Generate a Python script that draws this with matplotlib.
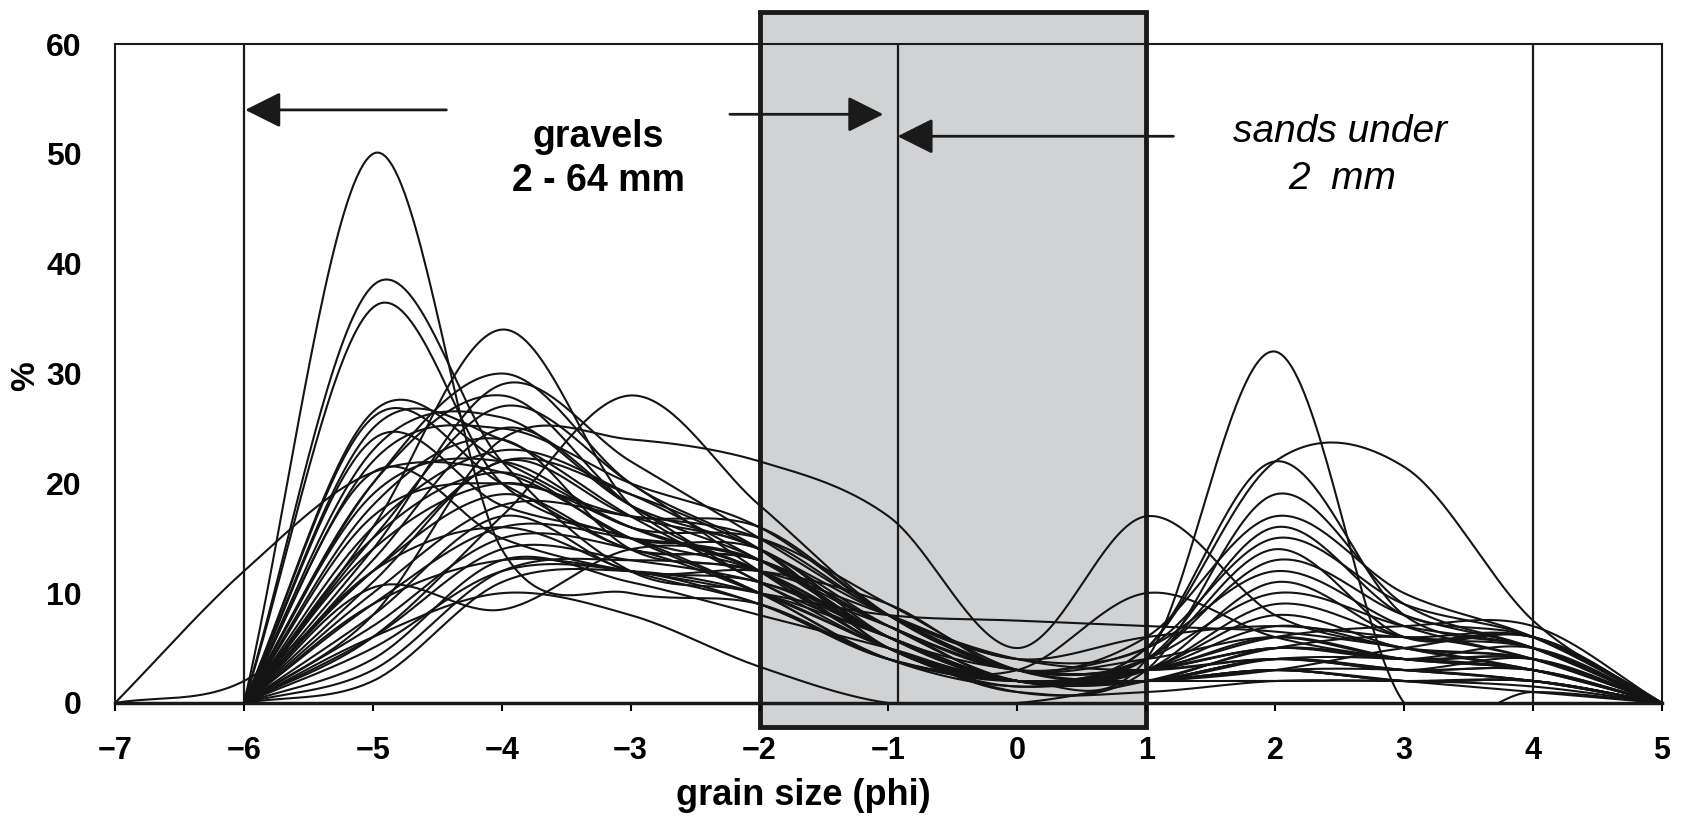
import numpy as np
import matplotlib
matplotlib.use("Agg")
import matplotlib.pyplot as plt
from matplotlib.patches import Rectangle

plt.rcParams['font.family'] = ['Liberation Sans', 'DejaVu Sans']

# grain size classes (phi) and the % retained for every sample
phi = [-7, -6, -5, -4, -3, -2, -1, 0, 1, 2, 3, 4, 5]
N = np.nan
samples = [
    [N, 0, 50, 14, 10, 9, 4, 2, 2, 3, 2, 1, 0],
    [N, 0, 38, 22, 12, 10, 5, 2, 2, 3, 2, 2, 0],
    [N, 0, 36, 20, 15, 12, 6, 2, 2, 2, 2, 1.5, 0],
    [N, 0, 16, 34, 18, 12, 6, 2, 2, 3, 3, 2, 0],
    [N, 0, 20, 30, 20, 14, 5, 2, 2, 3, 2, 2, 0],
    [N, 0, 14, 29, 22, 15, 8, 3, 2, 3, 2, 2, 0],
    [N, 0, 6, 17, 28, 18, 8, 3, 3, 5, 4, 3, 0],
    [N, 0, 8, 24, 24, 22, 17, 5, 17, 8, 5, 3, 0],
    [N, 0, 26.5, 22, 16, 12, 5, 2, 3, 5, 4, 3, 0],
    [N, 0, 26, 20, 14, 13, 6, 3, 3, 6, 4, 3, 0],
    [N, 0, 25, 24, 17, 11, 5, 2, 2, 4, 3, 4, 0],
    [N, 0, 24, 18, 15, 10, 4, 1.5, 3, 8, 5, 4, 0],
    [N, 0, 23, 26, 18, 14, 7, 2, 2, 4, 3, 3, 0],
    [N, 0, 22, 25, 20, 16, 8, 3, 3, 4, 3, 3, 0],
    [0, 12, 21, 21, 15, 10, 4, 2, 2, 4, 3, 2, 0],
    [0, 2, 12, 22, 19, 14, 8, 4, 3, 4, 3, 2, 0],
    [N, 0, 20, 28, 18, 13, 6, 2, 2, 5, 4, 4, 0],
    [N, 0, 19, 22, 16, 15, 9, 3, 2, 4, 4, 3, 0],
    [N, 0, 18, 24, 14, 12, 6, 2, 3, 7, 5, 4, 0],
    [N, 0, 17, 20, 17, 16, 8, 3, 4, 6, 4, 4, 0],
    [N, 0, 16, 23, 19, 13, 7, 3, 3, 5, 4, 5, 0],
    [N, 0, 15, 21, 15, 14, 6, 2, 3, 9, 6, 5, 0],
    [N, 0, 14, 20, 16, 12, 5, 1.5, 4, 10, 7, 5, 0],
    [N, 0, 13, 25, 18, 11, 6, 2, 3, 11, 6, 6, 0],
    [N, 0, 12, 19, 14, 13, 7, 3, 5, 12, 7, 4, 0],
    [N, 0, 11, 22, 17, 14, 5, 2, 4, 13, 8, 5, 0],
    [N, 0, 10.5, 8.5, 14, 13, 7, 3, 4, 14, 6, 6, 0],
    [N, 0, 10, 18, 17, 15, 8, 4, 5, 15, 9, 6, 0],
    [N, 0, 9, 16, 15, 13, 6, 2, 4, 16, 8, 6, 0],
    [N, 0, 8, 17, 12, 12, 9, 3, 6, 17, 10, 6, 0],
    [N, 0, 7, 15, 14, 10, 5, 1, 3, 19, 9, 5, 0],
    [N, 0, 6, 14, 13, 11, 7, 2, 5, 22, 8, 5, 0],
    [N, 0, 5, 12, 12, 9, 4, 2, 4, 32, 0, 1, 0],
    [N, 0, 4, 13, 11, 8, 5, 2, 5, 22, 21.5, 7.5, 0],
    [N, 0, 3, 12, 13, 12, 8, 4, 6, 7, 6, 6, 0],
    [N, 0, 6, 10, 8, 3.3, 0, 0, 2, 5, 6, 4, 0],
    [N, 0, 9, 13, 12, 10, 8, 7.5, 7, 6.5, 5, 3, 0],
    [N, 0, 12, 16, 12, 9, 4, 3, 10, 6, 4, 3, 0],
    [N, 0, 2, 11, 12, 10, 6, 2, 3, 6, 7, 7, 0],
    [N, 0, 21, 15, 12, 11, 6, 2, 2, 3, 5, 6, 0],
    [N, 0, 15, 27, 20, 12, 5, 1, 1, 2, 2, 2, 0],
]


def smooth(xs, ys, n=40):
    # excel style "smoothed line": cubic hermite with catmull-rom tangents
    x = np.array([a for a, b in zip(xs, ys) if not np.isnan(b)], float)
    y = np.array([b for b in ys if not np.isnan(b)], float)
    m = np.empty_like(y)
    m[1:-1] = (y[2:] - y[:-2]) / (x[2:] - x[:-2])
    m[0] = (y[1] - y[0]) / (x[1] - x[0])
    m[-1] = (y[-1] - y[-2]) / (x[-1] - x[-2])
    px, py = [], []
    for i in range(len(x) - 1):
        h = x[i + 1] - x[i]
        t = np.linspace(0, 1, n, endpoint=(i == len(x) - 2))
        h00 = 2 * t**3 - 3 * t**2 + 1
        h10 = t**3 - 2 * t**2 + t
        h01 = -2 * t**3 + 3 * t**2
        h11 = t**3 - t**2
        py.append(h00 * y[i] + h10 * h * m[i] + h01 * y[i + 1] + h11 * h * m[i + 1])
        px.append(x[i] + t * h)
    return np.concatenate(px), np.concatenate(py)


fig = plt.figure(figsize=(16.84, 8.19), dpi=100)
ax = fig.add_axes([115 / 1684, 1 - 703 / 819, 1547 / 1684, 659 / 819])
ax.set_xlim(-7, 5)
ax.set_ylim(0, 60)

# grey band -2..1 phi, sticking out above and below the frame
ax.add_patch(Rectangle((-2, -2.2), 3, 65.1, facecolor='#d1d2d4', edgecolor='none',
                       zorder=0.5, clip_on=False))
ax.add_patch(Rectangle((-2, -2.2), 3, 65.1, fill=False, edgecolor='#1a1a1a', lw=3.5,
                       zorder=1.5, clip_on=False))

for xv in [-6, -0.93, 4]:
    ax.plot([xv, xv], [0, 60], color='#1a1a1a', lw=1.6, zorder=2)

for s in samples:
    sx, sy = smooth(phi, s)
    ax.plot(sx, sy, color='#141414', lw=1.5, zorder=3)

arrow = dict(arrowstyle='-|>,head_length=1.1,head_width=0.55', mutation_scale=20,
             lw=2, color='#1a1a1a', shrinkA=0, shrinkB=0)
ax.annotate('', xy=(-5.99, 54), xytext=(-4.43, 54), arrowprops=arrow, zorder=4)
ax.annotate('', xy=(-1.04, 53.6), xytext=(-2.23, 53.6), arrowprops=arrow, zorder=4)
ax.annotate('', xy=(-0.93, 51.6), xytext=(1.21, 51.6), arrowprops=arrow, zorder=4)

ax.text(-3.25, 50.6, 'gravels', ha='center', va='baseline', fontsize=27, fontweight='bold')
ax.text(-3.25, 46.6, '2 - 64 mm', ha='center', va='baseline', fontsize=27, fontweight='bold')
ax.text(2.5, 51.1, 'sands under', ha='center', va='baseline', fontsize=28, style='italic')
ax.text(2.52, 46.8, '2  mm', ha='center', va='baseline', fontsize=28, style='italic')

ax.set_xticks(phi)
ax.set_yticks([0, 10, 20, 30, 40, 50, 60])
ax.tick_params(axis='x', direction='out', length=6, width=1.5, pad=18, labelsize=22)
ax.tick_params(axis='y', length=0, pad=24, labelsize=23)
for lab in ax.get_xticklabels() + ax.get_yticklabels():
    lab.set_fontweight('bold')

for sp in ax.spines.values():
    sp.set_linewidth(1.5)
    sp.set_color('#1a1a1a')
ax.spines['bottom'].set_linewidth(2.5)

ax.set_xlabel('grain size (phi)', fontsize=26, fontweight='bold')
ax.xaxis.label.set_verticalalignment('center')
ax.xaxis.set_label_coords(0.445, -0.141)
ax.set_ylabel('%', fontsize=24, fontweight='bold')
ax.yaxis.label.set_verticalalignment('center')
ax.yaxis.set_label_coords(-0.058, 0.496)

fig.savefig('out.png', dpi=100)
